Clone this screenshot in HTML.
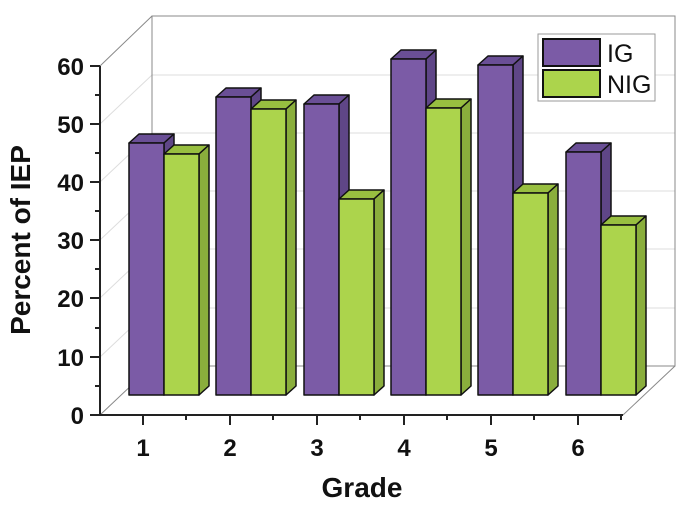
<!DOCTYPE html>
<html><head><style>
html,body{margin:0;padding:0;background:#fff;}
svg{display:block;font-family:"Liberation Sans",Arial,sans-serif;}
</style></head><body>
<svg width="693" height="507" viewBox="0 0 693 507">
<g stroke="#ddd" stroke-width="1">
<line x1="152" y1="75" x2="675" y2="75"/><line x1="152" y1="133" x2="675" y2="133"/>
<line x1="152" y1="191" x2="675" y2="191"/><line x1="152" y1="249" x2="675" y2="249"/>
<line x1="152" y1="308" x2="675" y2="308"/>
<line x1="100" y1="124" x2="152" y2="75"/><line x1="100" y1="182" x2="152" y2="133"/>
<line x1="100" y1="240" x2="152" y2="191"/><line x1="100" y1="298" x2="152" y2="249"/>
<line x1="100" y1="357" x2="152" y2="308"/>
</g>
<g stroke="#888" stroke-width="1" fill="none">
<polyline points="152,366 152,16 675,16 675,366 152,366"/>
<line x1="100" y1="66" x2="152" y2="16"/>
<line x1="100" y1="415" x2="152" y2="366"/>
<line x1="623" y1="415" x2="675" y2="366"/>
</g>
<g stroke="#111" stroke-width="1.5" stroke-linejoin="round">
<polygon points="129,143 139,134 174,134 164,143" fill="#6a4f96"/>
<polygon points="164,143 174,134 174,386 164,395" fill="#5f4687"/>
<rect x="129" y="143" width="35" height="252" fill="#7b5ba6"/>
<polygon points="164,154 174,145 209,145 199,154" fill="#98bf40"/>
<polygon points="199,154 209,145 209,386 199,395" fill="#8aae3c"/>
<rect x="164" y="154" width="35" height="241" fill="#acd44c"/>
<polygon points="216,97 226,88 261,88 251,97" fill="#6a4f96"/>
<polygon points="251,97 261,88 261,386 251,395" fill="#5f4687"/>
<rect x="216" y="97" width="35" height="298" fill="#7b5ba6"/>
<polygon points="251,109 261,100 296,100 286,109" fill="#98bf40"/>
<polygon points="286,109 296,100 296,386 286,395" fill="#8aae3c"/>
<rect x="251" y="109" width="35" height="286" fill="#acd44c"/>
<polygon points="304,104 314,95 349,95 339,104" fill="#6a4f96"/>
<polygon points="339,104 349,95 349,386 339,395" fill="#5f4687"/>
<rect x="304" y="104" width="35" height="291" fill="#7b5ba6"/>
<polygon points="339,199 349,190 384,190 374,199" fill="#98bf40"/>
<polygon points="374,199 384,190 384,386 374,395" fill="#8aae3c"/>
<rect x="339" y="199" width="35" height="196" fill="#acd44c"/>
<polygon points="391,59 401,50 436,50 426,59" fill="#6a4f96"/>
<polygon points="426,59 436,50 436,386 426,395" fill="#5f4687"/>
<rect x="391" y="59" width="35" height="336" fill="#7b5ba6"/>
<polygon points="426,108 436,99 471,99 461,108" fill="#98bf40"/>
<polygon points="461,108 471,99 471,386 461,395" fill="#8aae3c"/>
<rect x="426" y="108" width="35" height="287" fill="#acd44c"/>
<polygon points="478,65 488,56 523,56 513,65" fill="#6a4f96"/>
<polygon points="513,65 523,56 523,386 513,395" fill="#5f4687"/>
<rect x="478" y="65" width="35" height="330" fill="#7b5ba6"/>
<polygon points="513,193 523,184 558,184 548,193" fill="#98bf40"/>
<polygon points="548,193 558,184 558,386 548,395" fill="#8aae3c"/>
<rect x="513" y="193" width="35" height="202" fill="#acd44c"/>
<polygon points="566,152 576,143 611,143 601,152" fill="#6a4f96"/>
<polygon points="601,152 611,143 611,386 601,395" fill="#5f4687"/>
<rect x="566" y="152" width="35" height="243" fill="#7b5ba6"/>
<polygon points="601,225 611,216 646,216 636,225" fill="#98bf40"/>
<polygon points="636,225 646,216 646,386 636,395" fill="#8aae3c"/>
<rect x="601" y="225" width="35" height="170" fill="#acd44c"/>
</g>
<g stroke="#222" stroke-width="2">
<line x1="100" y1="66" x2="100" y2="416"/>
<line x1="99" y1="415" x2="623" y2="415"/>
<line x1="90" y1="66" x2="100" y2="66"/><line x1="90" y1="124" x2="100" y2="124"/>
<line x1="90" y1="182" x2="100" y2="182"/><line x1="90" y1="240" x2="100" y2="240"/>
<line x1="90" y1="298" x2="100" y2="298"/><line x1="90" y1="357" x2="100" y2="357"/>
<line x1="90" y1="415" x2="100" y2="415"/>
<line x1="95" y1="95" x2="100" y2="95"/><line x1="95" y1="153" x2="100" y2="153"/>
<line x1="95" y1="211" x2="100" y2="211"/><line x1="95" y1="269" x2="100" y2="269"/>
<line x1="95" y1="328" x2="100" y2="328"/><line x1="95" y1="386" x2="100" y2="386"/>
<line x1="143" y1="415" x2="143" y2="425"/><line x1="230" y1="415" x2="230" y2="425"/>
<line x1="317" y1="415" x2="317" y2="425"/><line x1="404" y1="415" x2="404" y2="425"/>
<line x1="491" y1="415" x2="491" y2="425"/><line x1="578" y1="415" x2="578" y2="425"/>
<line x1="186" y1="415" x2="186" y2="420"/><line x1="273" y1="415" x2="273" y2="420"/>
<line x1="360" y1="415" x2="360" y2="420"/><line x1="447" y1="415" x2="447" y2="420"/>
<line x1="534" y1="415" x2="534" y2="420"/><line x1="621" y1="415" x2="621" y2="420"/>
</g>
<g font-size="24" font-weight="bold" fill="#111" text-anchor="end">
<text x="84" y="75">60</text><text x="84" y="133">50</text><text x="84" y="191">40</text>
<text x="84" y="249">30</text><text x="84" y="307">20</text><text x="84" y="366">10</text>
<text x="84" y="424">0</text>
</g>
<g font-size="24" font-weight="bold" fill="#111" text-anchor="middle">
<text x="143" y="456">1</text><text x="230" y="456">2</text><text x="317" y="456">3</text>
<text x="404" y="456">4</text><text x="491" y="456">5</text><text x="578" y="456">6</text>
<text x="362" y="497" font-size="28">Grade</text>
<text transform="translate(30,240) rotate(-90)" font-size="28">Percent of IEP</text>
</g>
<rect x="538" y="34" width="117" height="67" fill="#fff" stroke="#999" stroke-width="1"/>
<rect x="543" y="39" width="57" height="27" fill="#7b5ba6" stroke="#111" stroke-width="2"/>
<rect x="543" y="70" width="57" height="27" fill="#acd44c" stroke="#111" stroke-width="2"/>
<text x="607" y="62" font-size="25" fill="#111">IG</text>
<text x="607" y="93" font-size="25" fill="#111">NIG</text>
</svg>
</body></html>
